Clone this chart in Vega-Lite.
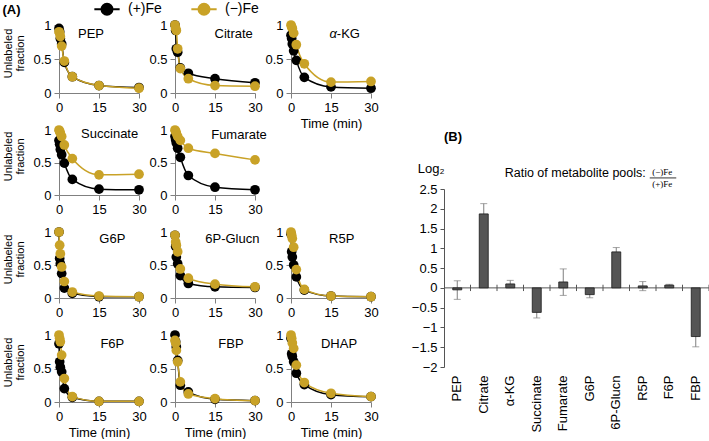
{
"$schema": "https://vega.github.io/schema/vega-lite/v6.json",
"padding": {"left": 2, "top": 2, "right": 0, "bottom": 0},
"config": {
  "font": "Liberation Sans",
  "view": {"stroke": null},
  "axis": {"grid": false, "labelOverlap": false, "domainColor": "#808080", "tickColor": "#808080", "tickSize": 5, "labelFontSize": 13, "labelColor": "#000000", "labelPadding": 3, "titleFontSize": 13, "titleFontWeight": "normal", "titleColor": "#000000", "titlePadding": 3},
  "legend": {"labelFontSize": 14, "labelColor": "#000000", "symbolSize": 121, "symbolStrokeWidth": 2, "labelOffset": 14, "columnPadding": 25, "padding": 0},
  "title": {"fontSize": 13, "fontWeight": "bold", "color": "#000000"}
},
"datasets": {
"ts": [
{"m":"PEP","fe":"(+)Fe","t":0,"v":0.95},{"m":"PEP","fe":"(+)Fe","t":0.25,"v":0.9},{"m":"PEP","fe":"(+)Fe","t":0.5,"v":0.8},{"m":"PEP","fe":"(+)Fe","t":1,"v":0.72},{"m":"PEP","fe":"(+)Fe","t":2,"v":0.45},{"m":"PEP","fe":"(+)Fe","t":5,"v":0.24},{"m":"PEP","fe":"(+)Fe","t":15,"v":0.11},{"m":"PEP","fe":"(+)Fe","t":30,"v":0.08},
{"m":"PEP","fe":"(−)Fe","t":0,"v":0.9},{"m":"PEP","fe":"(−)Fe","t":0.25,"v":0.88},{"m":"PEP","fe":"(−)Fe","t":0.5,"v":0.83},{"m":"PEP","fe":"(−)Fe","t":1,"v":0.69},{"m":"PEP","fe":"(−)Fe","t":2,"v":0.47},{"m":"PEP","fe":"(−)Fe","t":5,"v":0.24},{"m":"PEP","fe":"(−)Fe","t":15,"v":0.11},{"m":"PEP","fe":"(−)Fe","t":30,"v":0.07},
{"m":"Citrate","fe":"(+)Fe","t":0,"v":1.0},{"m":"Citrate","fe":"(+)Fe","t":0.25,"v":0.92},{"m":"Citrate","fe":"(+)Fe","t":0.5,"v":0.65},{"m":"Citrate","fe":"(+)Fe","t":1,"v":0.6},{"m":"Citrate","fe":"(+)Fe","t":2,"v":0.37},{"m":"Citrate","fe":"(+)Fe","t":5,"v":0.29},{"m":"Citrate","fe":"(+)Fe","t":15,"v":0.21},{"m":"Citrate","fe":"(+)Fe","t":30,"v":0.15},
{"m":"Citrate","fe":"(−)Fe","t":0,"v":1.0},{"m":"Citrate","fe":"(−)Fe","t":0.25,"v":0.95},{"m":"Citrate","fe":"(−)Fe","t":0.5,"v":0.92},{"m":"Citrate","fe":"(−)Fe","t":1,"v":0.65},{"m":"Citrate","fe":"(−)Fe","t":2,"v":0.36},{"m":"Citrate","fe":"(−)Fe","t":5,"v":0.21},{"m":"Citrate","fe":"(−)Fe","t":15,"v":0.11},{"m":"Citrate","fe":"(−)Fe","t":30,"v":0.1},
{"m":"α-KG","fe":"(+)Fe","t":0,"v":0.85},{"m":"α-KG","fe":"(+)Fe","t":0.25,"v":0.8},{"m":"α-KG","fe":"(+)Fe","t":0.5,"v":0.72},{"m":"α-KG","fe":"(+)Fe","t":1,"v":0.62},{"m":"α-KG","fe":"(+)Fe","t":2,"v":0.48},{"m":"α-KG","fe":"(+)Fe","t":5,"v":0.23},{"m":"α-KG","fe":"(+)Fe","t":15,"v":0.09},{"m":"α-KG","fe":"(+)Fe","t":30,"v":0.07},
{"m":"α-KG","fe":"(−)Fe","t":0,"v":1.0},{"m":"α-KG","fe":"(−)Fe","t":0.25,"v":0.97},{"m":"α-KG","fe":"(−)Fe","t":0.5,"v":0.95},{"m":"α-KG","fe":"(−)Fe","t":1,"v":0.88},{"m":"α-KG","fe":"(−)Fe","t":2,"v":0.71},{"m":"α-KG","fe":"(−)Fe","t":5,"v":0.43},{"m":"α-KG","fe":"(−)Fe","t":15,"v":0.16},{"m":"α-KG","fe":"(−)Fe","t":30,"v":0.17},
{"m":"Succinate","fe":"(+)Fe","t":0,"v":0.84},{"m":"Succinate","fe":"(+)Fe","t":0.25,"v":0.78},{"m":"Succinate","fe":"(+)Fe","t":0.5,"v":0.7},{"m":"Succinate","fe":"(+)Fe","t":1,"v":0.62},{"m":"Succinate","fe":"(+)Fe","t":2,"v":0.49},{"m":"Succinate","fe":"(+)Fe","t":5,"v":0.24},{"m":"Succinate","fe":"(+)Fe","t":15,"v":0.09},{"m":"Succinate","fe":"(+)Fe","t":30,"v":0.08},
{"m":"Succinate","fe":"(−)Fe","t":0,"v":1.0},{"m":"Succinate","fe":"(−)Fe","t":0.25,"v":0.98},{"m":"Succinate","fe":"(−)Fe","t":0.5,"v":0.95},{"m":"Succinate","fe":"(−)Fe","t":1,"v":0.9},{"m":"Succinate","fe":"(−)Fe","t":2,"v":0.77},{"m":"Succinate","fe":"(−)Fe","t":5,"v":0.56},{"m":"Succinate","fe":"(−)Fe","t":15,"v":0.31},{"m":"Succinate","fe":"(−)Fe","t":30,"v":0.32},
{"m":"Fumarate","fe":"(+)Fe","t":0,"v":0.9},{"m":"Fumarate","fe":"(+)Fe","t":0.25,"v":0.85},{"m":"Fumarate","fe":"(+)Fe","t":0.5,"v":0.8},{"m":"Fumarate","fe":"(+)Fe","t":1,"v":0.72},{"m":"Fumarate","fe":"(+)Fe","t":2,"v":0.58},{"m":"Fumarate","fe":"(+)Fe","t":5,"v":0.3},{"m":"Fumarate","fe":"(+)Fe","t":15,"v":0.12},{"m":"Fumarate","fe":"(+)Fe","t":30,"v":0.08},
{"m":"Fumarate","fe":"(−)Fe","t":0,"v":1.0},{"m":"Fumarate","fe":"(−)Fe","t":0.25,"v":0.98},{"m":"Fumarate","fe":"(−)Fe","t":0.5,"v":0.95},{"m":"Fumarate","fe":"(−)Fe","t":1,"v":0.9},{"m":"Fumarate","fe":"(−)Fe","t":2,"v":0.84},{"m":"Fumarate","fe":"(−)Fe","t":5,"v":0.72},{"m":"Fumarate","fe":"(−)Fe","t":15,"v":0.64},{"m":"Fumarate","fe":"(−)Fe","t":30,"v":0.54},
{"m":"G6P","fe":"(+)Fe","t":0,"v":1.0},{"m":"G6P","fe":"(+)Fe","t":0.25,"v":0.6},{"m":"G6P","fe":"(+)Fe","t":0.5,"v":0.52},{"m":"G6P","fe":"(+)Fe","t":1,"v":0.37},{"m":"G6P","fe":"(+)Fe","t":2,"v":0.15},{"m":"G6P","fe":"(+)Fe","t":5,"v":0.07},{"m":"G6P","fe":"(+)Fe","t":15,"v":0.02},{"m":"G6P","fe":"(+)Fe","t":30,"v":0.02},
{"m":"G6P","fe":"(−)Fe","t":0,"v":1.0},{"m":"G6P","fe":"(−)Fe","t":0.25,"v":0.8},{"m":"G6P","fe":"(−)Fe","t":0.5,"v":0.67},{"m":"G6P","fe":"(−)Fe","t":1,"v":0.47},{"m":"G6P","fe":"(−)Fe","t":2,"v":0.25},{"m":"G6P","fe":"(−)Fe","t":5,"v":0.09},{"m":"G6P","fe":"(−)Fe","t":15,"v":0.03},{"m":"G6P","fe":"(−)Fe","t":30,"v":0.02},
{"m":"6P-Glucn","fe":"(+)Fe","t":0,"v":0.95},{"m":"6P-Glucn","fe":"(+)Fe","t":0.25,"v":0.78},{"m":"6P-Glucn","fe":"(+)Fe","t":0.5,"v":0.62},{"m":"6P-Glucn","fe":"(+)Fe","t":1,"v":0.52},{"m":"6P-Glucn","fe":"(+)Fe","t":2,"v":0.34},{"m":"6P-Glucn","fe":"(+)Fe","t":5,"v":0.22},{"m":"6P-Glucn","fe":"(+)Fe","t":15,"v":0.17},{"m":"6P-Glucn","fe":"(+)Fe","t":30,"v":0.16},
{"m":"6P-Glucn","fe":"(−)Fe","t":0,"v":0.95},{"m":"6P-Glucn","fe":"(−)Fe","t":0.25,"v":0.85},{"m":"6P-Glucn","fe":"(−)Fe","t":0.5,"v":0.8},{"m":"6P-Glucn","fe":"(−)Fe","t":1,"v":0.7},{"m":"6P-Glucn","fe":"(−)Fe","t":2,"v":0.44},{"m":"6P-Glucn","fe":"(−)Fe","t":5,"v":0.3},{"m":"6P-Glucn","fe":"(−)Fe","t":15,"v":0.21},{"m":"6P-Glucn","fe":"(−)Fe","t":30,"v":0.17},
{"m":"R5P","fe":"(+)Fe","t":0,"v":0.97},{"m":"R5P","fe":"(+)Fe","t":0.25,"v":0.7},{"m":"R5P","fe":"(+)Fe","t":0.5,"v":0.62},{"m":"R5P","fe":"(+)Fe","t":1,"v":0.5},{"m":"R5P","fe":"(+)Fe","t":2,"v":0.32},{"m":"R5P","fe":"(+)Fe","t":5,"v":0.12},{"m":"R5P","fe":"(+)Fe","t":15,"v":0.03},{"m":"R5P","fe":"(+)Fe","t":30,"v":0.02},
{"m":"R5P","fe":"(−)Fe","t":0,"v":1.0},{"m":"R5P","fe":"(−)Fe","t":0.25,"v":0.95},{"m":"R5P","fe":"(−)Fe","t":0.5,"v":0.9},{"m":"R5P","fe":"(−)Fe","t":1,"v":0.77},{"m":"R5P","fe":"(−)Fe","t":2,"v":0.43},{"m":"R5P","fe":"(−)Fe","t":5,"v":0.13},{"m":"R5P","fe":"(−)Fe","t":15,"v":0.03},{"m":"R5P","fe":"(−)Fe","t":30,"v":0.02},
{"m":"F6P","fe":"(+)Fe","t":0,"v":0.87},{"m":"F6P","fe":"(+)Fe","t":0.25,"v":0.6},{"m":"F6P","fe":"(+)Fe","t":0.5,"v":0.52},{"m":"F6P","fe":"(+)Fe","t":1,"v":0.45},{"m":"F6P","fe":"(+)Fe","t":2,"v":0.2},{"m":"F6P","fe":"(+)Fe","t":5,"v":0.07},{"m":"F6P","fe":"(+)Fe","t":15,"v":0.01},{"m":"F6P","fe":"(+)Fe","t":30,"v":0.01},
{"m":"F6P","fe":"(−)Fe","t":0,"v":1.0},{"m":"F6P","fe":"(−)Fe","t":0.25,"v":0.95},{"m":"F6P","fe":"(−)Fe","t":0.5,"v":0.9},{"m":"F6P","fe":"(−)Fe","t":1,"v":0.7},{"m":"F6P","fe":"(−)Fe","t":2,"v":0.35},{"m":"F6P","fe":"(−)Fe","t":5,"v":0.08},{"m":"F6P","fe":"(−)Fe","t":15,"v":0.01},{"m":"F6P","fe":"(−)Fe","t":30,"v":0.01},
{"m":"FBP","fe":"(+)Fe","t":0,"v":1.0},{"m":"FBP","fe":"(+)Fe","t":0.25,"v":0.9},{"m":"FBP","fe":"(+)Fe","t":0.5,"v":0.82},{"m":"FBP","fe":"(+)Fe","t":1,"v":0.62},{"m":"FBP","fe":"(+)Fe","t":2,"v":0.25},{"m":"FBP","fe":"(+)Fe","t":5,"v":0.15},{"m":"FBP","fe":"(+)Fe","t":15,"v":0.04},{"m":"FBP","fe":"(+)Fe","t":30,"v":0.02},
{"m":"FBP","fe":"(−)Fe","t":0,"v":0.92},{"m":"FBP","fe":"(−)Fe","t":0.25,"v":0.88},{"m":"FBP","fe":"(−)Fe","t":0.5,"v":0.77},{"m":"FBP","fe":"(−)Fe","t":1,"v":0.6},{"m":"FBP","fe":"(−)Fe","t":2,"v":0.3},{"m":"FBP","fe":"(−)Fe","t":5,"v":0.12},{"m":"FBP","fe":"(−)Fe","t":15,"v":0.05},{"m":"FBP","fe":"(−)Fe","t":30,"v":0.02},
{"m":"DHAP","fe":"(+)Fe","t":0,"v":0.95},{"m":"DHAP","fe":"(+)Fe","t":0.25,"v":0.72},{"m":"DHAP","fe":"(+)Fe","t":0.5,"v":0.68},{"m":"DHAP","fe":"(+)Fe","t":1,"v":0.6},{"m":"DHAP","fe":"(+)Fe","t":2,"v":0.43},{"m":"DHAP","fe":"(+)Fe","t":5,"v":0.26},{"m":"DHAP","fe":"(+)Fe","t":15,"v":0.11},{"m":"DHAP","fe":"(+)Fe","t":30,"v":0.08},
{"m":"DHAP","fe":"(−)Fe","t":0,"v":1.0},{"m":"DHAP","fe":"(−)Fe","t":0.25,"v":0.95},{"m":"DHAP","fe":"(−)Fe","t":0.5,"v":0.88},{"m":"DHAP","fe":"(−)Fe","t":1,"v":0.8},{"m":"DHAP","fe":"(−)Fe","t":2,"v":0.55},{"m":"DHAP","fe":"(−)Fe","t":5,"v":0.29},{"m":"DHAP","fe":"(−)Fe","t":15,"v":0.13},{"m":"DHAP","fe":"(−)Fe","t":30,"v":0.08}
],
"bars": [
{"m":"PEP","v":-0.05,"lo":-0.29,"hi":0.18},
{"m":"Citrate","v":1.87,"lo":1.6,"hi":2.13},
{"m":"α-KG","v":0.1,"lo":0.01,"hi":0.19},
{"m":"Succinate","v":-0.62,"lo":-0.76,"hi":-0.48},
{"m":"Fumarate","v":0.15,"lo":-0.19,"hi":0.48},
{"m":"G6P","v":-0.17,"lo":-0.25,"hi":-0.09},
{"m":"6P-Glucn","v":0.91,"lo":0.8,"hi":1.02},
{"m":"R5P","v":0.05,"lo":-0.07,"hi":0.16},
{"m":"F6P","v":0.07,"lo":0.05,"hi":0.09},
{"m":"FBP","v":-1.23,"lo":-1.49,"hi":-0.97}
]
},
"spacing": 32,
"hconcat": [
{
"title": {"text": "(A)", "anchor": "start", "offset": 2},
"columns": 3,
"spacing": {"row": 37, "column": 36},
"bounds": "flush",
"concat": [
{"width":80,"height":68,"data":{"name":"ts"},"layer":[
 {"transform":[{"filter":"datum.m==='PEP'"}],"mark":{"type":"line","interpolate":"monotone","strokeWidth":1.5,"point":{"filled":true,"size":95,"opacity":1}},"encoding":{
  "x":{"field":"t","type":"quantitative","scale":{"domain":[0,30]},"axis":{"values":[0,15,30],"tickCount":20,"title":null,"labelFlush":false}},
  "y":{"field":"v","type":"quantitative","scale":{"domain":[0,1]},"axis":{"values":[0,0.5,1],"tickCount":20,"format":"~g","labelFlush":false,"title":["Unlabeled","fraction"],"titleFontSize":11,"titleLineHeight":12.5,"titlePadding":7,"titleY":28}},
  "color":{"field":"fe","type":"nominal","scale":{"domain":["(+)Fe","(−)Fe"],"range":["#000000","#C9A227"]},"legend":{"title":null,"orient":"none","legendX":41,"legendY":-23,"direction":"horizontal","symbolType":"M-2.3,0L2.3,0M-1,0A1,1 0 1,1 1,0A1,1 0 1,1 -1,0","encode":{"symbols":{"update":{"fill":{"scale":"color","field":"value"},"stroke":{"scale":"color","field":"value"},"opacity":{"value":1}}}}}}}},
 {"data":{"values":[{"s":"PEP"}]},"mark":{"type":"text","fontSize":13},"encoding":{"x":{"datum":12},"y":{"datum":0.87},"text":{"field":"s"}}}
]},
{"width":80,"height":68,"data":{"name":"ts"},"layer":[
 {"transform":[{"filter":"datum.m==='Citrate'"}],"mark":{"type":"line","interpolate":"monotone","strokeWidth":1.5,"point":{"filled":true,"size":95,"opacity":1}},"encoding":{
  "x":{"field":"t","type":"quantitative","scale":{"domain":[0,30]},"axis":{"values":[0,15,30],"tickCount":20,"title":null,"labelFlush":false}},
  "y":{"field":"v","type":"quantitative","scale":{"domain":[0,1]},"axis":{"values":[0,0.5,1],"tickCount":20,"format":"~g","labelFlush":false,"title":null}},
  "color":{"field":"fe","type":"nominal","scale":{"domain":["(+)Fe","(−)Fe"],"range":["#000000","#C9A227"]},"legend":{"title":null,"orient":"none","legendX":41,"legendY":-23,"direction":"horizontal","symbolType":"M-2.3,0L2.3,0M-1,0A1,1 0 1,1 1,0A1,1 0 1,1 -1,0","encode":{"symbols":{"update":{"fill":{"scale":"color","field":"value"},"stroke":{"scale":"color","field":"value"},"opacity":{"value":1}}}}}}}},
 {"data":{"values":[{"s":"Citrate"}]},"mark":{"type":"text","fontSize":13},"encoding":{"x":{"datum":22},"y":{"datum":0.87},"text":{"field":"s"}}}
]},
{"width":80,"height":68,"data":{"name":"ts"},"layer":[
 {"transform":[{"filter":"datum.m==='α-KG'"}],"mark":{"type":"line","interpolate":"monotone","strokeWidth":1.5,"point":{"filled":true,"size":95,"opacity":1}},"encoding":{
  "x":{"field":"t","type":"quantitative","scale":{"domain":[0,30]},"axis":{"values":[0,15,30],"tickCount":20,"title":"Time (min)","labelFlush":false}},
  "y":{"field":"v","type":"quantitative","scale":{"domain":[0,1]},"axis":{"values":[0,0.5,1],"tickCount":20,"format":"~g","labelFlush":false,"title":null}},
  "color":{"field":"fe","type":"nominal","scale":{"domain":["(+)Fe","(−)Fe"],"range":["#000000","#C9A227"]},"legend":{"title":null,"orient":"none","legendX":41,"legendY":-23,"direction":"horizontal","symbolType":"M-2.3,0L2.3,0M-1,0A1,1 0 1,1 1,0A1,1 0 1,1 -1,0","encode":{"symbols":{"update":{"fill":{"scale":"color","field":"value"},"stroke":{"scale":"color","field":"value"},"opacity":{"value":1}}}}}}}},
 {"data":{"values":[{"s":"α"}]},"mark":{"type":"text","fontSize":13,"fontStyle":"italic","align":"right"},"encoding":{"x":{"datum":17.2},"y":{"datum":0.87},"text":{"field":"s"}}},
 {"data":{"values":[{"s":"-KG"}]},"mark":{"type":"text","fontSize":13,"align":"left"},"encoding":{"x":{"datum":17.2},"y":{"datum":0.87},"text":{"field":"s"}}}
]},
{"width":80,"height":65,"data":{"name":"ts"},"layer":[
 {"transform":[{"filter":"datum.m==='Succinate'"}],"mark":{"type":"line","interpolate":"monotone","strokeWidth":1.5,"point":{"filled":true,"size":95,"opacity":1}},"encoding":{
  "x":{"field":"t","type":"quantitative","scale":{"domain":[0,30]},"axis":{"values":[0,15,30],"tickCount":20,"title":null,"labelFlush":false}},
  "y":{"field":"v","type":"quantitative","scale":{"domain":[0,1]},"axis":{"values":[0,0.5,1],"tickCount":20,"format":"~g","labelFlush":false,"title":["Unlabeled","fraction"],"titleFontSize":11,"titleLineHeight":12.5,"titlePadding":7,"titleY":26}},
  "color":{"field":"fe","type":"nominal","scale":{"domain":["(+)Fe","(−)Fe"],"range":["#000000","#C9A227"]},"legend":{"title":null,"orient":"none","legendX":41,"legendY":-23,"direction":"horizontal","symbolType":"M-2.3,0L2.3,0M-1,0A1,1 0 1,1 1,0A1,1 0 1,1 -1,0","encode":{"symbols":{"update":{"fill":{"scale":"color","field":"value"},"stroke":{"scale":"color","field":"value"},"opacity":{"value":1}}}}}}}},
 {"data":{"values":[{"s":"Succinate"}]},"mark":{"type":"text","fontSize":13},"encoding":{"x":{"datum":19},"y":{"datum":0.94},"text":{"field":"s"}}}
]},
{"width":80,"height":65,"data":{"name":"ts"},"layer":[
 {"transform":[{"filter":"datum.m==='Fumarate'"}],"mark":{"type":"line","interpolate":"monotone","strokeWidth":1.5,"point":{"filled":true,"size":95,"opacity":1}},"encoding":{
  "x":{"field":"t","type":"quantitative","scale":{"domain":[0,30]},"axis":{"values":[0,15,30],"tickCount":20,"title":null,"labelFlush":false}},
  "y":{"field":"v","type":"quantitative","scale":{"domain":[0,1]},"axis":{"values":[0,0.5,1],"tickCount":20,"format":"~g","labelFlush":false,"title":null}},
  "color":{"field":"fe","type":"nominal","scale":{"domain":["(+)Fe","(−)Fe"],"range":["#000000","#C9A227"]},"legend":{"title":null,"orient":"none","legendX":41,"legendY":-23,"direction":"horizontal","symbolType":"M-2.3,0L2.3,0M-1,0A1,1 0 1,1 1,0A1,1 0 1,1 -1,0","encode":{"symbols":{"update":{"fill":{"scale":"color","field":"value"},"stroke":{"scale":"color","field":"value"},"opacity":{"value":1}}}}}}}},
 {"data":{"values":[{"s":"Fumarate"}]},"mark":{"type":"text","fontSize":13},"encoding":{"x":{"datum":24},"y":{"datum":0.92},"text":{"field":"s"}}}
]},
{"width":80,"height":65,"data":{"values":[{"s":""}]},"mark":{"type":"text"},"encoding":{"text":{"field":"s"}}},
{"width":80,"height":66,"data":{"name":"ts"},"layer":[
 {"transform":[{"filter":"datum.m==='G6P'"}],"mark":{"type":"line","interpolate":"monotone","strokeWidth":1.5,"point":{"filled":true,"size":95,"opacity":1}},"encoding":{
  "x":{"field":"t","type":"quantitative","scale":{"domain":[0,30]},"axis":{"values":[0,15,30],"tickCount":20,"title":null,"labelFlush":false}},
  "y":{"field":"v","type":"quantitative","scale":{"domain":[0,1]},"axis":{"values":[0,0.5,1],"tickCount":20,"format":"~g","labelFlush":false,"title":["Unlabeled","fraction"],"titleFontSize":11,"titleLineHeight":12.5,"titlePadding":7,"titleY":27}},
  "color":{"field":"fe","type":"nominal","scale":{"domain":["(+)Fe","(−)Fe"],"range":["#000000","#C9A227"]},"legend":{"title":null,"orient":"none","legendX":41,"legendY":-23,"direction":"horizontal","symbolType":"M-2.3,0L2.3,0M-1,0A1,1 0 1,1 1,0A1,1 0 1,1 -1,0","encode":{"symbols":{"update":{"fill":{"scale":"color","field":"value"},"stroke":{"scale":"color","field":"value"},"opacity":{"value":1}}}}}}}},
 {"data":{"values":[{"s":"G6P"}]},"mark":{"type":"text","fontSize":13},"encoding":{"x":{"datum":20},"y":{"datum":0.89},"text":{"field":"s"}}}
]},
{"width":80,"height":66,"data":{"name":"ts"},"layer":[
 {"transform":[{"filter":"datum.m==='6P-Glucn'"}],"mark":{"type":"line","interpolate":"monotone","strokeWidth":1.5,"point":{"filled":true,"size":95,"opacity":1}},"encoding":{
  "x":{"field":"t","type":"quantitative","scale":{"domain":[0,30]},"axis":{"values":[0,15,30],"tickCount":20,"title":null,"labelFlush":false}},
  "y":{"field":"v","type":"quantitative","scale":{"domain":[0,1]},"axis":{"values":[0,0.5,1],"tickCount":20,"format":"~g","labelFlush":false,"title":null}},
  "color":{"field":"fe","type":"nominal","scale":{"domain":["(+)Fe","(−)Fe"],"range":["#000000","#C9A227"]},"legend":{"title":null,"orient":"none","legendX":41,"legendY":-23,"direction":"horizontal","symbolType":"M-2.3,0L2.3,0M-1,0A1,1 0 1,1 1,0A1,1 0 1,1 -1,0","encode":{"symbols":{"update":{"fill":{"scale":"color","field":"value"},"stroke":{"scale":"color","field":"value"},"opacity":{"value":1}}}}}}}},
 {"data":{"values":[{"s":"6P-Glucn"}]},"mark":{"type":"text","fontSize":13},"encoding":{"x":{"datum":21.5},"y":{"datum":0.89},"text":{"field":"s"}}}
]},
{"width":80,"height":66,"data":{"name":"ts"},"layer":[
 {"transform":[{"filter":"datum.m==='R5P'"}],"mark":{"type":"line","interpolate":"monotone","strokeWidth":1.5,"point":{"filled":true,"size":95,"opacity":1}},"encoding":{
  "x":{"field":"t","type":"quantitative","scale":{"domain":[0,30]},"axis":{"values":[0,15,30],"tickCount":20,"title":null,"labelFlush":false}},
  "y":{"field":"v","type":"quantitative","scale":{"domain":[0,1]},"axis":{"values":[0,0.5,1],"tickCount":20,"format":"~g","labelFlush":false,"title":null}},
  "color":{"field":"fe","type":"nominal","scale":{"domain":["(+)Fe","(−)Fe"],"range":["#000000","#C9A227"]},"legend":{"title":null,"orient":"none","legendX":41,"legendY":-23,"direction":"horizontal","symbolType":"M-2.3,0L2.3,0M-1,0A1,1 0 1,1 1,0A1,1 0 1,1 -1,0","encode":{"symbols":{"update":{"fill":{"scale":"color","field":"value"},"stroke":{"scale":"color","field":"value"},"opacity":{"value":1}}}}}}}},
 {"data":{"values":[{"s":"R5P"}]},"mark":{"type":"text","fontSize":13},"encoding":{"x":{"datum":19},"y":{"datum":0.89},"text":{"field":"s"}}}
]},
{"width":80,"height":67,"data":{"name":"ts"},"layer":[
 {"transform":[{"filter":"datum.m==='F6P'"}],"mark":{"type":"line","interpolate":"monotone","strokeWidth":1.5,"point":{"filled":true,"size":95,"opacity":1}},"encoding":{
  "x":{"field":"t","type":"quantitative","scale":{"domain":[0,30]},"axis":{"values":[0,15,30],"tickCount":20,"title":"Time (min)","labelFlush":false}},
  "y":{"field":"v","type":"quantitative","scale":{"domain":[0,1]},"axis":{"values":[0,0.5,1],"tickCount":20,"format":"~g","labelFlush":false,"title":["Unlabeled","fraction"],"titleFontSize":11,"titleLineHeight":12.5,"titlePadding":7,"titleY":27}},
  "color":{"field":"fe","type":"nominal","scale":{"domain":["(+)Fe","(−)Fe"],"range":["#000000","#C9A227"]},"legend":{"title":null,"orient":"none","legendX":41,"legendY":-23,"direction":"horizontal","symbolType":"M-2.3,0L2.3,0M-1,0A1,1 0 1,1 1,0A1,1 0 1,1 -1,0","encode":{"symbols":{"update":{"fill":{"scale":"color","field":"value"},"stroke":{"scale":"color","field":"value"},"opacity":{"value":1}}}}}}}},
 {"data":{"values":[{"s":"F6P"}]},"mark":{"type":"text","fontSize":13},"encoding":{"x":{"datum":20},"y":{"datum":0.87},"text":{"field":"s"}}}
]},
{"width":80,"height":67,"data":{"name":"ts"},"layer":[
 {"transform":[{"filter":"datum.m==='FBP'"}],"mark":{"type":"line","interpolate":"monotone","strokeWidth":1.5,"point":{"filled":true,"size":95,"opacity":1}},"encoding":{
  "x":{"field":"t","type":"quantitative","scale":{"domain":[0,30]},"axis":{"values":[0,15,30],"tickCount":20,"title":"Time (min)","labelFlush":false}},
  "y":{"field":"v","type":"quantitative","scale":{"domain":[0,1]},"axis":{"values":[0,0.5,1],"tickCount":20,"format":"~g","labelFlush":false,"title":null}},
  "color":{"field":"fe","type":"nominal","scale":{"domain":["(+)Fe","(−)Fe"],"range":["#000000","#C9A227"]},"legend":{"title":null,"orient":"none","legendX":41,"legendY":-23,"direction":"horizontal","symbolType":"M-2.3,0L2.3,0M-1,0A1,1 0 1,1 1,0A1,1 0 1,1 -1,0","encode":{"symbols":{"update":{"fill":{"scale":"color","field":"value"},"stroke":{"scale":"color","field":"value"},"opacity":{"value":1}}}}}}}},
 {"data":{"values":[{"s":"FBP"}]},"mark":{"type":"text","fontSize":13},"encoding":{"x":{"datum":21},"y":{"datum":0.87},"text":{"field":"s"}}}
]},
{"width":80,"height":67,"data":{"name":"ts"},"layer":[
 {"transform":[{"filter":"datum.m==='DHAP'"}],"mark":{"type":"line","interpolate":"monotone","strokeWidth":1.5,"point":{"filled":true,"size":95,"opacity":1}},"encoding":{
  "x":{"field":"t","type":"quantitative","scale":{"domain":[0,30]},"axis":{"values":[0,15,30],"tickCount":20,"title":"Time (min)","labelFlush":false}},
  "y":{"field":"v","type":"quantitative","scale":{"domain":[0,1]},"axis":{"values":[0,0.5,1],"tickCount":20,"format":"~g","labelFlush":false,"title":null}},
  "color":{"field":"fe","type":"nominal","scale":{"domain":["(+)Fe","(−)Fe"],"range":["#000000","#C9A227"]},"legend":{"title":null,"orient":"none","legendX":41,"legendY":-23,"direction":"horizontal","symbolType":"M-2.3,0L2.3,0M-1,0A1,1 0 1,1 1,0A1,1 0 1,1 -1,0","encode":{"symbols":{"update":{"fill":{"scale":"color","field":"value"},"stroke":{"scale":"color","field":"value"},"opacity":{"value":1}}}}}}}},
 {"data":{"values":[{"s":"DHAP"}]},"mark":{"type":"text","fontSize":13},"encoding":{"x":{"datum":18},"y":{"datum":0.87},"text":{"field":"s"}}}
]}
]
},
{
"vconcat": [
{"width": 200, "height": 106, "data": {"values": [{"s": ""}]}, "mark": {"type": "text"}, "encoding": {"text": {"field": "s"}}},
{
"width": 265, "height": 178,
"data": {"name": "bars"},
"title": {"text": "(B)", "anchor": "start", "frame": "group", "offset": 18},
"layer": [
  {"mark": {"type": "rule", "color": "#7f7f7f", "strokeWidth": 1},
   "encoding": {
    "x": {"field": "m", "type": "nominal", "sort": null, "scale": {"domain": ["PEP","Citrate","α-KG","Succinate","Fumarate","G6P","6P-Glucn","R5P","F6P","FBP"], "paddingInner": 0, "paddingOuter": 0}, "axis": {"orient": "bottom", "labelAngle": -90, "domain": false, "ticks": false, "labelPadding": 8, "title": null, "labelFontSize": 13}},
    "y": {"field": "lo", "type": "quantitative", "scale": {"domain": [-2, 2.5], "nice": false}, "axis": {"values": [-2,-1.5,-1,-0.5,0,0.5,1,1.5,2,2.5], "tickCount": 20, "format": "~g", "labelFlush": false, "domainColor": "#555555", "tickColor": "#555555", "tickSize": 4, "labelPadding": 3, "title": "Log₂", "titleAngle": 0, "titleAlign": "right", "titleBaseline": "middle", "titleX": 0, "titleY": -21, "titleFontSize": 13}},
    "y2": {"field": "hi"}}},
  {"mark": {"type": "tick", "color": "#7f7f7f", "orient": "horizontal", "size": 7, "thickness": 1},
   "encoding": {"x": {"field": "m", "type": "nominal"}, "y": {"field": "hi", "type": "quantitative"}}},
  {"mark": {"type": "tick", "color": "#7f7f7f", "orient": "horizontal", "size": 7, "thickness": 1},
   "encoding": {"x": {"field": "m", "type": "nominal"}, "y": {"field": "lo", "type": "quantitative"}}},
  {"data": {"values": [{"z": 0}]}, "mark": {"type": "rule", "color": "#555555", "strokeWidth": 1},
   "encoding": {"y": {"field": "z", "type": "quantitative"}}},
  {"mark": {"type": "rule", "color": "#555555", "strokeWidth": 1},
   "encoding": {"x": {"field": "m", "type": "nominal", "bandPosition": 1}, "y": {"datum": -0.08}, "y2": {"datum": 0.08}}},
  {"mark": {"type": "bar", "fill": "#555555", "stroke": "#1a1a1a", "strokeWidth": 0.8, "size": 9},
   "encoding": {"x": {"field": "m", "type": "nominal"}, "y": {"field": "v", "type": "quantitative"}}},
  {"data": {"values": [{"s": "Ratio of metabolite pools:"}]}, "mark": {"type": "text", "align": "right", "baseline": "middle", "fontSize": 12.5, "dx": 3},
   "encoding": {"x": {"datum": "R5P"}, "y": {"datum": 2.9}, "text": {"field": "s"}}},
  {"data": {"values": [{"s": "(−)Fe"}]}, "mark": {"type": "text", "align": "center", "baseline": "middle", "fontSize": 9, "font": "Liberation Serif", "dx": -7},
   "encoding": {"x": {"datum": "F6P"}, "y": {"datum": 2.93}, "text": {"field": "s"}}},
  {"data": {"values": [{"s": "(+)Fe"}]}, "mark": {"type": "text", "align": "center", "baseline": "middle", "fontSize": 9, "font": "Liberation Serif", "dx": -7},
   "encoding": {"x": {"datum": "F6P"}, "y": {"datum": 2.63}, "text": {"field": "s"}}},
  {"data": {"values": [{"a": "R5P", "b": "F6P"}]}, "mark": {"type": "rule", "color": "#000000", "strokeWidth": 0.8, "xOffset": 7, "x2Offset": 7},
   "encoding": {"x": {"field": "a", "type": "nominal"}, "x2": {"field": "b"}, "y": {"datum": 2.78}}}
]
}
],
"spacing": 0
}
]
}
